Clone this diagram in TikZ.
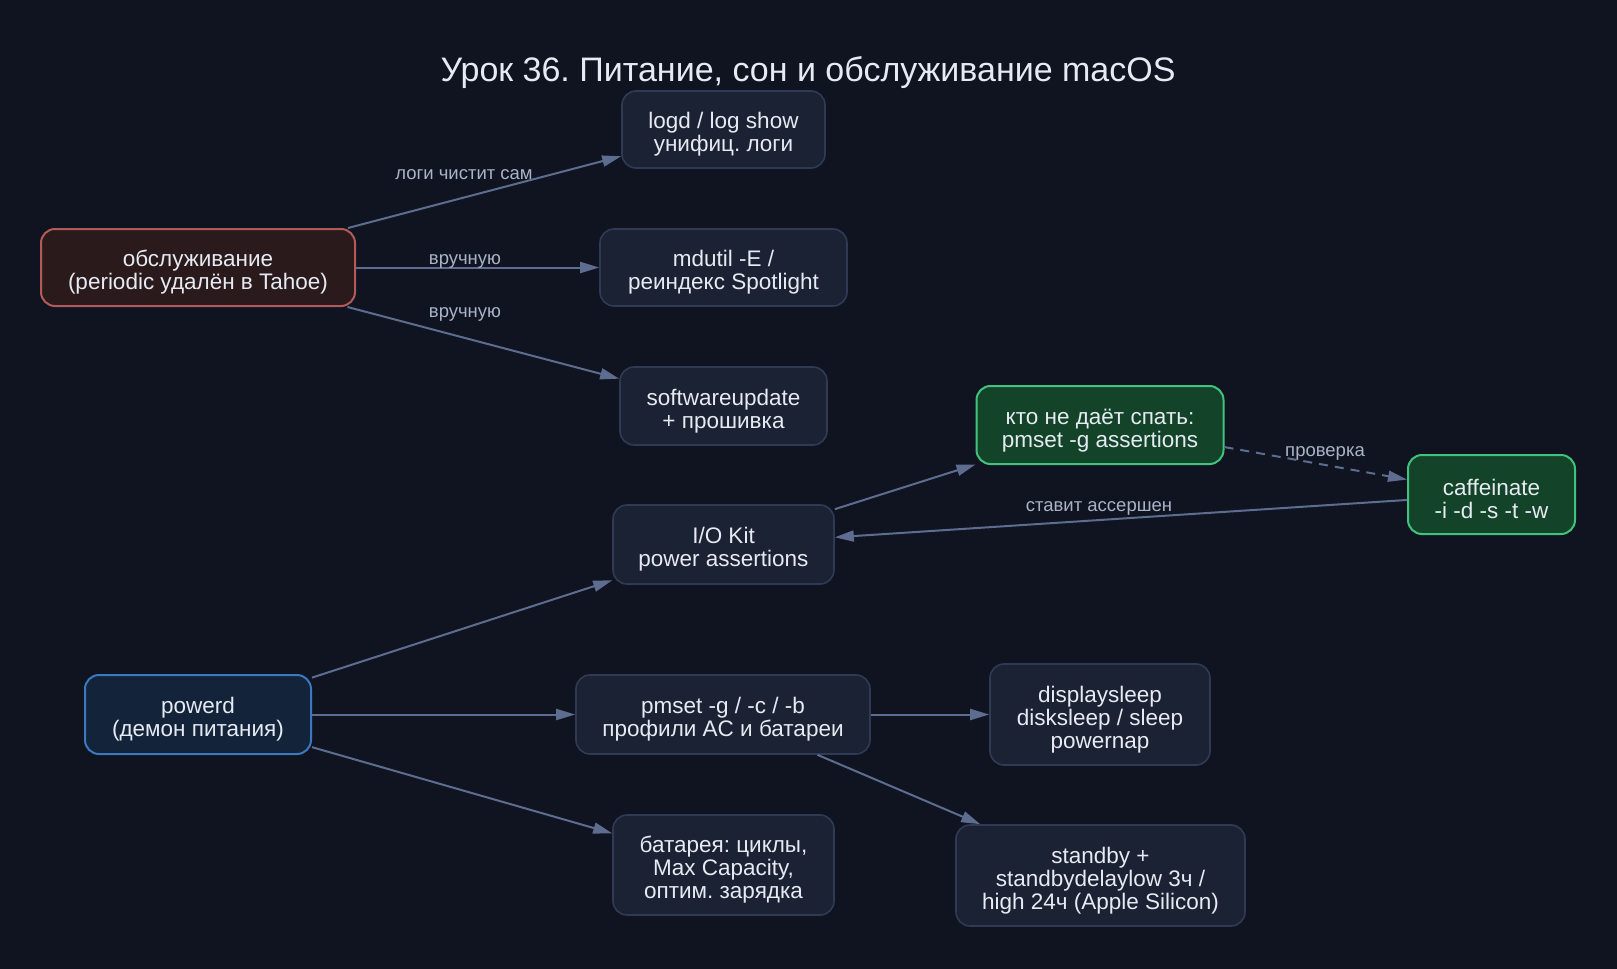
\documentclass[tikz,border=0pt]{standalone}
\usepackage{fontspec}
\setmainfont{Liberation Sans}
\frenchspacing
\usetikzlibrary{arrows.meta}
\definecolor{bg}{HTML}{0F1420}
\definecolor{nfill}{HTML}{1B2233}
\definecolor{ndraw}{HTML}{2F3B55}
\definecolor{rfill}{HTML}{2A1A1C}
\definecolor{rdraw}{HTML}{B35A58}
\definecolor{bfill}{HTML}{13243A}
\definecolor{bdraw}{HTML}{3A78C0}
\definecolor{gfill}{HTML}{134429}
\definecolor{gdraw}{HTML}{42C27F}
\definecolor{edge}{HTML}{5D6C8F}
\definecolor{txt}{HTML}{E6EAF2}
\definecolor{ltxt}{HTML}{A9B3C8}
\newcommand\tstr{\rule{0pt}{26pt}}
\tikzset{
  box/.style={draw=ndraw, fill=nfill, line width=1.6pt, rounded corners=14pt, align=center,
    text=txt, font=\fontsize{22.5}{23}\selectfont, inner sep=0pt},
  redbox/.style={box, draw=rdraw, fill=rfill, line width=2pt},
  bluebox/.style={box, draw=bdraw, fill=bfill, line width=2pt},
  greenbox/.style={box, draw=gdraw, fill=gfill, line width=2pt},
  conn/.style={draw=edge, line width=2pt, -{Triangle[length=19pt,width=11pt]}},
  elabel/.style={text=ltxt, font=\fontsize{18.5}{20}\selectfont, inner sep=0pt},
}
\begin{document}
\begin{tikzpicture}[x=1pt,y=-1pt]
\fill[bg] (0,0) rectangle (1617,969);
\useasboundingbox (0,0) rectangle (1617,969);
\node[text=txt, font=\fontsize{34}{38}\selectfont, inner sep=0pt] (title) at (808,73) {Урок 36. Питание, сон и обслуживание macOS};

\node[box, minimum width=203pt, minimum height=77pt] (logd) at (723.5,129.5) {\tstr logd / log show\\унифиц. логи};
\node[redbox, minimum width=314pt, minimum height=77pt] (obsl) at (198,267.5) {\tstr обслуживание\\(periodic удалён в Tahoe)};
\node[box, minimum width=247pt, minimum height=77pt] (mdutil) at (723.5,267.5) {\tstr mdutil -E /\\реиндекс Spotlight};
\node[box, minimum width=207pt, minimum height=78pt] (swu) at (723.5,406) {\tstr softwareupdate\\+ прошивка};
\node[greenbox, minimum width=247pt, minimum height=78pt] (who) at (1100,425) {\tstr кто не даёт спать:\\pmset -g assertions};
\node[greenbox, minimum width=167pt, minimum height=79pt] (caff) at (1491.5,494.5) {\tstr caffeinate\\-i -d -s -t -w};
\node[box, minimum width=221pt, minimum height=79pt] (iokit) at (723.5,544.5) {\tstr I/O Kit\\power assertions};
\node[bluebox, minimum width=226pt, minimum height=79pt] (powerd) at (198,714.5) {\tstr powerd\\(демон питания)};
\node[box, minimum width=294pt, minimum height=79pt] (pmset) at (723,714.5) {\tstr pmset -g / -c / -b\\профили AC и батареи};
\node[box, minimum width=220pt, minimum height=101pt] (disp) at (1100,714.5) {\tstr displaysleep\\disksleep / sleep\\powernap};
\node[box, minimum width=221pt, minimum height=100pt] (batt) at (723.5,865) {\tstr батарея: циклы,\\Max Capacity,\\оптим. зарядка};
\node[box, minimum width=289pt, minimum height=101pt] (stby) at (1100.5,875.5) {\tstr standby +\\standbydelaylow 3ч /\\high 24ч (Apple Silicon)};

\draw[conn] (obsl) -- (logd);
\draw[conn] (obsl) -- (mdutil);
\draw[conn] (obsl) -- (swu);
\draw[conn] (powerd) -- (iokit);
\draw[conn] (powerd) -- (pmset);
\draw[conn] (powerd) -- (batt);
\draw[conn] (iokit) -- (who);
\draw[conn, dashed, dash pattern=on 9pt off 7pt] (who) -- (caff);
\draw[conn] (caff) -- (iokit);
\draw[conn] (pmset) -- (disp);
\draw[conn] (pmset) -- (stby);

\node[elabel] (l1) at (464,175) {логи чистит сам};
\node[elabel] (l2) at (465,261) {вручную};
\node[elabel] (l3) at (465,314) {вручную};
\node[elabel] (l4) at (1325,453) {проверка};
\node[elabel] (l5) at (1099,508) {ставит ассершен};
\end{tikzpicture}
\end{document}
